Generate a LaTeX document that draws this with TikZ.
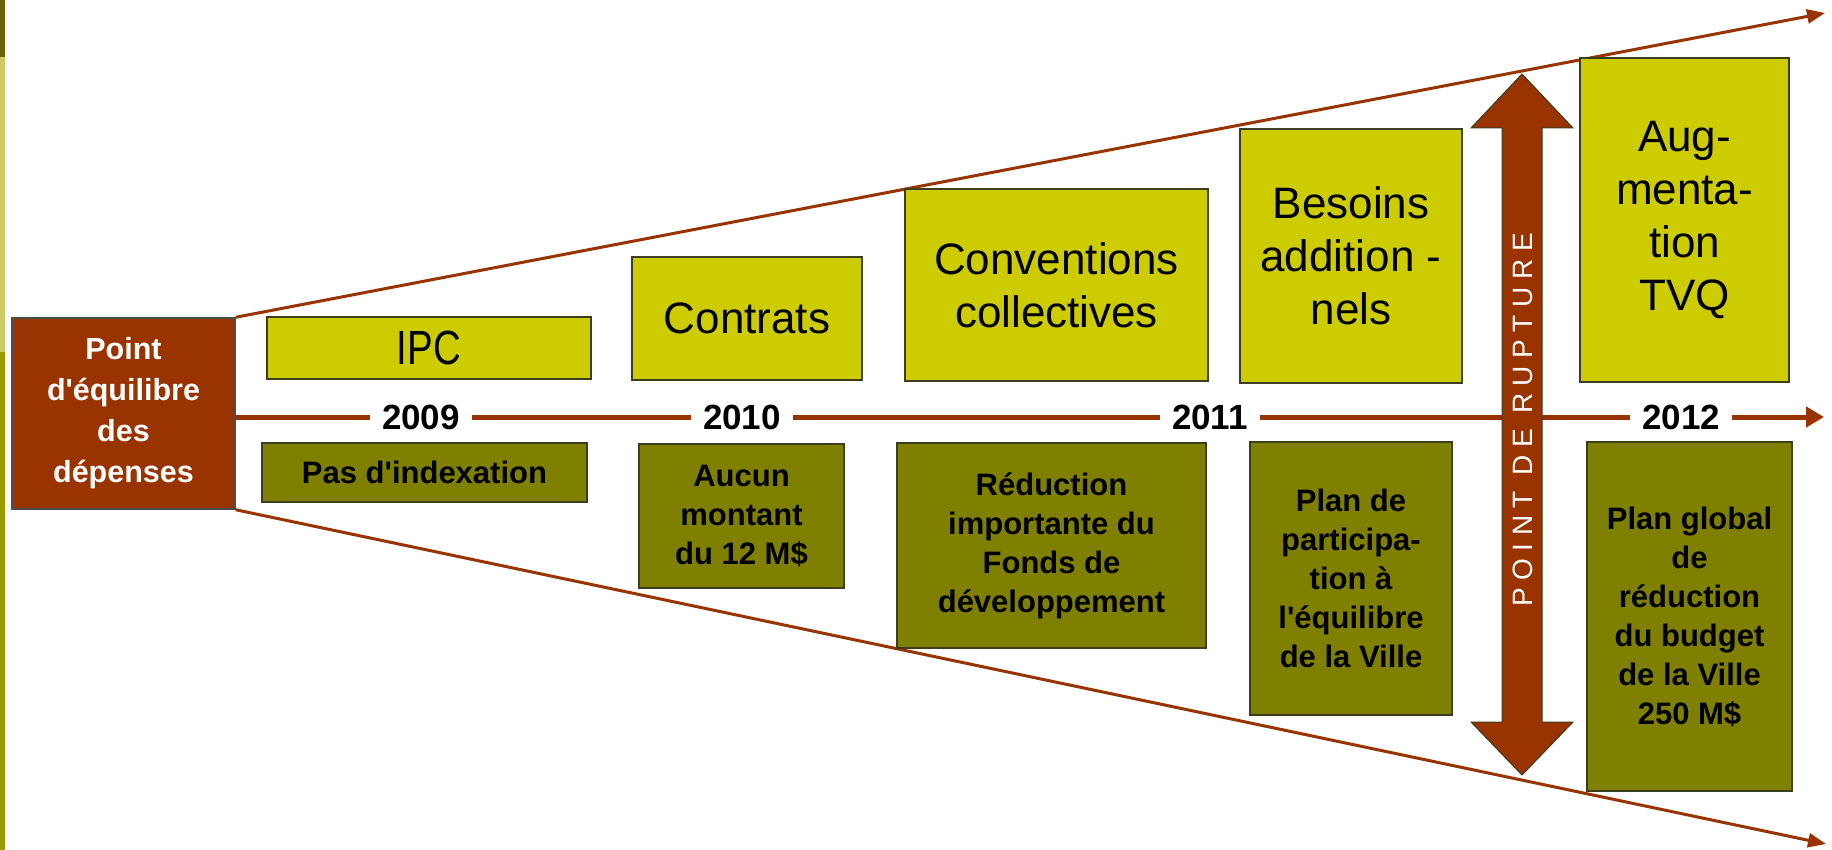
\documentclass[tikz,border=0pt]{standalone}
\usepackage{fontspec}
\setmainfont{Liberation Sans}[Ligatures=TeXOff]
\newfontfamily\narrowfont{Liberation Sans}[FakeStretch=0.8,Ligatures=TeXOff]
\usetikzlibrary{arrows.meta}
\definecolor{rust}{RGB}{153,51,0}
\definecolor{ybox}{RGB}{204,204,0}
\definecolor{obox}{RGB}{128,128,0}
\definecolor{edgec}{RGB}{60,60,30}
\definecolor{bardark}{RGB}{102,102,0}
\definecolor{barlight}{RGB}{204,204,102}
\definecolor{barmid}{RGB}{155,155,0}
\begin{document}
\begin{tikzpicture}[x=1pt,y=-1pt,
  topbox/.style={draw=edgec, line width=1.5pt, fill=ybox, inner sep=0pt, align=center, font=\fontsize{44}{53}\selectfont},
  botbox/.style={draw=edgec, line width=1.5pt, fill=obox, inner sep=0pt, align=center, font=\fontsize{31}{39}\selectfont\bfseries},
  yearlbl/.style={fill=white, inner xsep=12pt, inner ysep=2pt, font=\fontsize{35}{40}\selectfont\bfseries},
  trend/.style={draw=rust, line width=3pt, -{Triangle[length=18pt,width=14pt]}},
  axisline/.style={draw=rust, line width=5pt, -{Triangle[length=18pt,width=20pt]}},
]
\useasboundingbox (0,0) rectangle (1832,850);
\fill[white] (0,0) rectangle (1832,850);
% side bar
\fill[bardark] (0,0) rectangle (5,57);
\fill[barlight] (0,57) rectangle (5,352);
\fill[barmid] (0,352) rectangle (5,850);

% start box
\node[draw=black!70, line width=1.5pt, fill=rust, text=white, inner sep=0pt,
      minimum width=223pt, minimum height=191pt, align=center,
      font=\fontsize{30.5}{41}\selectfont\bfseries] (start) at (123.5,413.5)
      {Point\\d'équilibre\\des\\dépenses};

% ends of connectors
\coordinate (topend) at (1825,13);
\coordinate (botend) at (1826,844);
\coordinate (axisend) at (1824,417);

\draw[trend] (start.north east) -- (topend);
\draw[trend] (start.south east) -- (botend);
\draw[axisline] (start.east |- axisend) -- (axisend);

% top boxes
\node[topbox, minimum width=324pt, minimum height=62pt] (ipc) at (429,348) {\narrowfont\fontsize{48}{53}\selectfont IPC};
\node[topbox, minimum width=230pt, minimum height=123pt] (contrats) at (747,318.5) {Contrats};
\node[topbox, minimum width=303pt, minimum height=192pt] (conv) at (1056.5,285) {Conventions\\collectives};
\node[topbox, minimum width=222pt, minimum height=254pt] (besoins) at (1351,256) {Besoins\\addition -\\nels};
\node[topbox, minimum width=209pt, minimum height=324pt] (tvq) at (1684.5,220) {Aug-\\menta-\\tion\\TVQ};

% bottom boxes
\node[botbox, minimum width=325pt, minimum height=59pt] (pas) at (424.5,472.5) {Pas d'indexation};
\node[botbox, minimum width=205pt, minimum height=144pt] (aucun) at (741.5,516) {Aucun\\montant\\du 12 M\$};
\node[botbox, minimum width=309pt, minimum height=205pt] (reduc) at (1051.5,545.5) {Réduction\\importante du\\Fonds de\\développement};
\node[botbox, minimum width=202pt, minimum height=273pt] (plan) at (1351,578.5) {Plan de\\participa-\\tion à\\l'équilibre\\de la Ville};
\node[botbox, minimum width=205pt, minimum height=349pt] (global) at (1689.5,616.5) {Plan global\\de\\réduction\\du budget\\de la Ville\\250 M\$};

% years
\node[yearlbl] (y2009) at (421,417) {2009};
\node[yearlbl] (y2010) at (742,417) {2010};
\node[yearlbl] (y2011) at (1210,417) {2011};
\node[yearlbl] (y2012) at (1681,417) {2012};

% rupture double arrow
\filldraw[fill=rust, draw=edgec, line width=1pt]
  (1522,74) -- (1573,128) -- (1542,128) -- (1542,722) -- (1573,722) -- (1522,775)
  -- (1471,722) -- (1502,722) -- (1502,128) -- (1471,128) -- cycle;
\node[rotate=90, text=white, inner sep=0pt,
      font=\fontsize{28}{28}\selectfont\addfontfeature{LetterSpace=27}] (rupture) at (1523,420) {POINT DE RUPTURE};
\end{tikzpicture}
\end{document}
